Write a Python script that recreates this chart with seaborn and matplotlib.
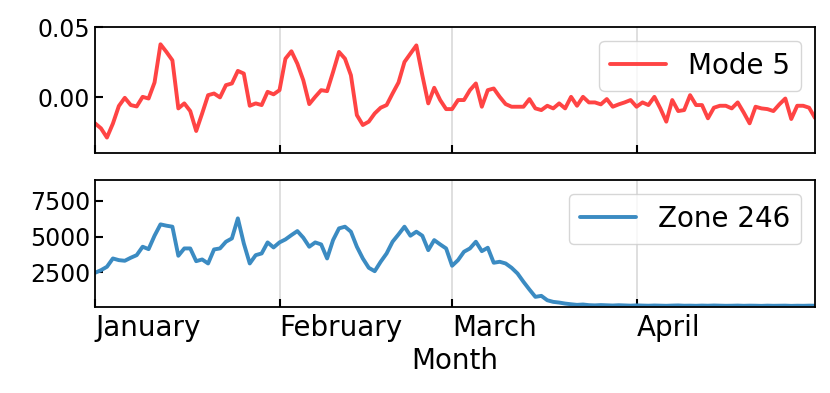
"""
plot.py
Два ряда по дням (январь - 1 мая): мода 5 и зона 246, общая ось месяцев.
"""
import matplotlib
matplotlib.use("Agg")
import matplotlib.dates as mdates
import matplotlib.pyplot as plt
import numpy as np
import pandas as pd
import seaborn as sns

# значения (по одному на день)
mode5 = [
    -0.0188, -0.0224, -0.029, -0.019, -0.0064, -0.0005, -0.0057, -0.0067, 0.0002, -0.001,
    0.0105, 0.0379, 0.0324, 0.0264, -0.0081, -0.0045, -0.010, -0.0243, -0.0117, 0.0014,
    0.0026, -0.0002, 0.0086, 0.0098, 0.0188, 0.0169, -0.0062, -0.0045, -0.0057, 0.0038,
    0.0020, 0.005, 0.0276, 0.0329, 0.024, 0.0121, -0.005, 0.0002, 0.005, 0.0043,
    0.018, 0.0324, 0.0276, 0.0157, -0.0129, -0.020, -0.0176, -0.0117, -0.0076, -0.0057,
    0.0026, 0.0105, 0.0252, 0.0312, 0.0371, 0.0157, -0.0045, 0.0067, -0.0021, -0.0086,
    -0.0086, -0.0021, -0.0021, 0.005, 0.0098, -0.0069, 0.005, 0.0062, 0.0002, -0.005,
    -0.0069, -0.0069, -0.0069, -0.0014, -0.0081, -0.0093, -0.0062, -0.0081, -0.0045, -0.0081,
    0.0002, -0.0062, 0.0002, -0.0038, -0.0038, -0.0052, -0.0014, -0.0069, -0.0052, -0.0038,
    -0.0021, -0.0069, -0.0038, -0.0057, 0.0002, -0.0081, -0.0176, -0.0021, -0.010, -0.0093,
    0.0014, -0.0057, -0.0057, -0.0152, -0.0076, -0.0062, -0.0062, -0.0081, -0.0038, -0.011,
    -0.0188, -0.0069, -0.0081, -0.0086, -0.010, -0.0052, -0.001, -0.0157, -0.0062, -0.0062,
    -0.0076, -0.015,
]
zone246 = [
    2471, 2654, 2892, 3475, 3357, 3313, 3524, 3707, 4296, 4128,
    5068, 5862, 5770, 5700, 3664, 4177, 4177, 3285, 3405, 3124,
    4107, 4177, 4647, 4879, 6283, 4528, 3124, 3707, 3826, 4598,
    4247, 4600, 4809, 5111, 5392, 4928, 4296, 4598, 4458, 3475,
    4760, 5581, 5700, 5349, 4296, 3475, 2822, 2583, 3243, 3826,
    4647, 5160, 5700, 5068, 5349, 5068, 4058, 4760, 4458, 4177,
    2962, 3357, 3945, 4177, 4647, 3987, 4226, 3173, 3243, 3124,
    2822, 2422, 1839, 1299, 786, 856, 548, 435, 386, 316,
    267, 225, 250, 205, 190, 210, 195, 180, 200, 185,
    170, 190, 175, 165, 180, 170, 160, 175, 185, 165,
    170, 160, 175, 165, 180, 170, 160, 165, 175, 160,
    170, 165, 155, 170, 160, 165, 170, 155, 165, 160,
    170, 165,
]
dates = pd.date_range("2020-01-01", periods=len(mode5), freq="D")

series = [
    ("Mode 5", mode5, "#ff4444", (-0.04, 0.0505), [0.0, 0.05]),
    ("Zone 246", zone246, "#3b8bc2", (80, 8970), [2500, 5000, 7500]),
]

sns.set_theme(style="white")
plt.rcParams["font.family"] = ["DejaVu Sans"]
plt.rcParams["text.color"] = "black"
plt.rcParams["xtick.color"] = "black"
plt.rcParams["ytick.color"] = "black"
plt.rcParams["axes.labelcolor"] = "black"

fig = plt.figure(figsize=(8.3, 3.93), dpi=100)
ax_top = fig.add_axes([0.1145, 0.611, 0.8675, 0.321])
ax_bot = fig.add_axes([0.1145, 0.219, 0.8675, 0.323], sharex=ax_top)

for ax, (name, values, color, ylim, yticks) in zip([ax_top, ax_bot], series):
    df = pd.DataFrame({"date": dates, "value": values})
    sns.lineplot(data=df, x="date", y="value", color=color, linewidth=2.8, label=name, ax=ax)
    ax.set_ylim(*ylim)
    ax.set_yticks(yticks)
    ax.set_xlim(dates[0], dates[-1])
    ax.set_ylabel("")
    ax.set_xlabel("")
    ax.grid(axis="x", color="#d9d9d9", linewidth=1.2)
    ax.grid(axis="y", visible=False)
    ax.tick_params(direction="in", length=6, width=1.5, color="black",
                   bottom=True, left=True, labelsize=17, labelcolor="black")
    for spine in ax.spines.values():
        spine.set_color("black")
        spine.set_linewidth(1.3)
    leg = ax.legend(loc="upper right", fontsize=20, frameon=True, framealpha=0.8,
                    handlelength=2.0)
    leg.get_frame().set_edgecolor("#cccccc")

ax_top.yaxis.set_major_formatter(plt.FormatStrFormatter("%.2f"))
ax_top.tick_params(labelbottom=False)

# только январь-апрель: 1 мая на правом краю без подписи
ax_bot.xaxis.set_major_locator(mdates.MonthLocator(bymonth=[1, 2, 3, 4]))
ax_bot.xaxis.set_major_formatter(mdates.DateFormatter("%B"))
ax_bot.tick_params(axis="x", labelsize=20, pad=5)
for lbl in ax_bot.get_xticklabels():
    lbl.set_horizontalalignment("left")
ax_bot.set_xlabel("Month", fontsize=20, labelpad=4)

fig.savefig("out.png", dpi=100)
